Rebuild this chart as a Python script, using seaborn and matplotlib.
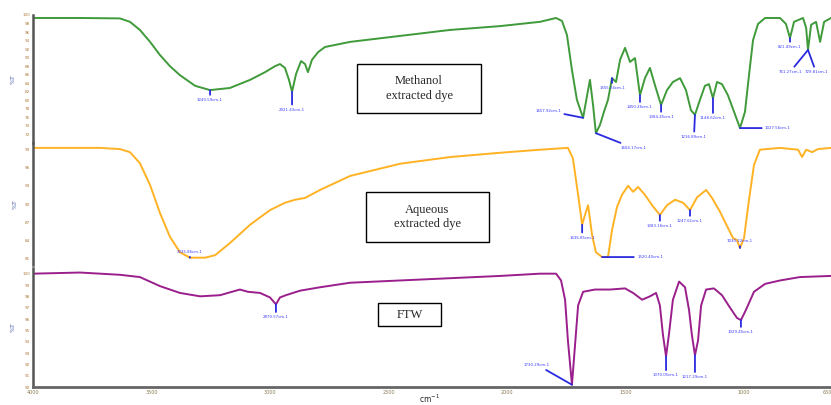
import matplotlib
matplotlib.use("Agg")
import matplotlib.pyplot as plt
from matplotlib.patches import Rectangle
import seaborn as sns
import pandas as pd

# ---- data: wavenumber (cm-1) and %T ----
methanol_wn = [4000, 3802, 3633, 3591, 3549, 3506, 3464, 3422, 3380, 3316, 3253, 3169, 3084, 3021,
               2979, 2958, 2937, 2920, 2907, 2890, 2869, 2852, 2840, 2823, 2797, 2768, 2662, 2451,
               2240, 2029, 1861, 1793, 1768, 1747, 1726, 1705, 1679, 1662, 1650, 1637, 1625, 1608,
               1591, 1574, 1557, 1540, 1523, 1502, 1481, 1460, 1439, 1418, 1397, 1376, 1350, 1325,
               1300, 1270, 1245, 1224, 1207, 1186, 1165, 1148, 1131, 1114, 1093, 1068, 1042, 1017,
               996, 979, 962, 941, 911, 848, 823, 806, 789, 751, 738, 730, 717, 696, 679, 662, 633]
methanol_t = [99.3, 99.3, 99.2, 98.4, 96.5, 93.7, 90.6, 88.0, 85.9, 83.4, 82.4, 82.9, 84.8, 86.6,
              88.0, 88.5, 87.6, 84.8, 82.0, 86.2, 89.2, 88.5, 86.6, 89.5, 91.3, 92.5, 93.7, 95.1,
              96.5, 97.4, 98.4, 99.3, 98.6, 95.3, 87.1, 80.1, 75.9, 81.2, 84.8, 78.9, 72.3, 74.2,
              77.3, 80.1, 85.2, 84.3, 89.5, 92.3, 89.0, 89.9, 81.2, 85.2, 87.6, 83.6, 78.9, 82.4,
              84.3, 85.2, 82.4, 77.7, 76.6, 80.1, 83.4, 83.8, 80.5, 84.3, 83.8, 81.2, 77.3, 73.5,
              77.3, 85.9, 94.1, 97.9, 99.3, 99.3, 97.9, 94.6, 98.4, 99.3, 97.0, 91.8, 97.7, 98.4,
              93.7, 98.4, 99.3]

aqueous_wn = [4000, 3717, 3633, 3591, 3549, 3506, 3464, 3422, 3380, 3338, 3274, 3232, 3169, 3084,
              3000, 2937, 2894, 2852, 2789, 2662, 2451, 2240, 2029, 1861, 1743, 1722, 1700, 1683,
              1671, 1658, 1641, 1625, 1599, 1574, 1557, 1536, 1515, 1489, 1468, 1447, 1418, 1388,
              1355, 1325, 1291, 1257, 1228, 1198, 1160, 1135, 1101, 1068, 1046, 1030, 1017, 1000,
              979, 958, 933, 848, 772, 755, 738, 713, 688, 633]
aqueous_t = [99.2, 99.2, 99.0, 98.5, 96.7, 93.1, 88.5, 84.6, 82.1, 81.2, 81.2, 81.6, 83.6, 86.6,
             89.0, 90.2, 90.7, 91.0, 92.3, 94.6, 96.6, 97.7, 98.4, 98.9, 99.2, 97.5, 91.5, 86.6,
             88.2, 89.8, 84.9, 82.1, 81.3, 81.3, 85.7, 89.5, 91.5, 93.0, 92.0, 92.8, 91.5, 89.8,
             88.2, 89.8, 90.7, 90.2, 89.0, 91.1, 92.3, 91.0, 88.7, 86.1, 84.4, 84.1, 82.8, 84.4,
             90.7, 96.4, 98.9, 99.2, 98.9, 97.7, 98.9, 98.5, 99.0, 99.2]

ftw_wn = [4000, 3802, 3633, 3549, 3464, 3380, 3295, 3211, 3127, 3093, 3042, 3000, 2975, 2958,
          2933, 2873, 2789, 2662, 2451, 2240, 2029, 1861, 1793, 1772, 1755, 1743, 1726, 1713,
          1700, 1679, 1629, 1565, 1502, 1468, 1430, 1397, 1371, 1355, 1342, 1329, 1317, 1300,
          1274, 1249, 1232, 1220, 1207, 1194, 1181, 1160, 1127, 1093, 1059, 1030, 1013, 992,
          958, 911, 848, 764, 633]
ftw_t = [100.0, 100.1, 99.9, 99.7, 98.9, 98.3, 98.0, 98.1, 98.6, 98.4, 98.3, 97.9, 97.3, 97.9,
         98.1, 98.5, 98.8, 99.2, 99.4, 99.6, 99.8, 100.0, 100.0, 99.4, 97.7, 94.1, 90.2, 93.7,
         97.2, 98.4, 98.6, 98.6, 98.7, 98.3, 97.7, 98.0, 98.3, 97.2, 94.6, 92.7, 94.6, 97.7,
         99.3, 98.8, 96.8, 94.6, 92.8, 94.1, 97.2, 98.6, 98.7, 98.1, 97.0, 96.1, 95.9, 96.8,
         98.4, 99.1, 99.4, 99.7, 99.8]

# peak labels: (wavenumber, %T, label, dx px, dy px)
methanol_peaks = [(3253, 82.4, "3240.59cm-1", 0, -8), (2907, 82.0, "2921.43cm-1", 0, -16),
                  (1679, 75.9, "1657.92cm-1", -22, 5), (1625, 72.3, "1604.17cm-1", 25, -13),
                  (1557, 85.2, "1555.24cm-1", 0, -8), (1439, 81.2, "1450.26cm-1", 0, -10),
                  (1350, 78.9, "1384.45cm-1", 0, -10), (1207, 76.6, "1216.89cm-1", -1, -20),
                  (1131, 80.5, "1148.62cm-1", 0, -18), (1017, 73.5, "1027.56cm-1", 25, 0),
                  (806, 94.6, "821.49cm-1", 0, -7), (730, 91.8, "761.27cm-1", -18, -20),
                  (730, 91.8, "729.81cm-1", 8, -20)]
aqueous_peaks = [(3338, 81.2, "3335.86cm-1", 0, 4), (1683, 86.6, "1636.85cm-1", 0, -11),
                 (1599, 81.3, "1520.40cm-1", 35, 0), (1355, 88.2, "1383.16cm-1", 0, -9),
                 (1228, 89.0, "1247.61cm-1", 0, -9), (1017, 82.8, "1030.22cm-1", 0, 5)]
ftw_peaks = [(2975, 97.3, "2870.57cm-1", 0, -11), (1726, 90.2, "1730.29cm-1", -22, 18),
             (1329, 92.7, "1370.05cm-1", 0, -17), (1207, 92.8, "1217.29cm-1", 0, -20),
             (1013, 95.9, "1029.45cm-1", 0, -10)]

x_ticks = [4000, 3500, 3000, 2500, 2000, 1500, 1000, 650]

sns.set_style("white")
plt.rcParams['font.family'] = ['DejaVu Sans']

fig = plt.figure(figsize=(8.31, 4.05), dpi=100)
W, H = 831.0, 405.0


def panel(top, bottom):
    return fig.add_axes([33 / W, 1 - bottom / H, (W - 33) / W, (bottom - top) / H])


panels = [
    (panel(15, 143), methanol_wn, methanol_t, "#3f9a3a", (70, 100), list(range(72, 101, 2)), methanol_peaks),
    (panel(143, 265), aqueous_wn, aqueous_t, "#ffb224", (80, 100), [81, 84, 87, 90, 93, 96, 99], aqueous_peaks),
    (panel(268, 387), ftw_wn, ftw_t, "#9a1f8c", (90, 100.5), list(range(90, 101)), ftw_peaks),
]

for i, (ax, wn, t, col, ylim, yt, peaks) in enumerate(panels):
    df = pd.DataFrame({"wn": wn, "t": t})
    sns.lineplot(data=df, x="wn", y="t", ax=ax, color=col, linewidth=1.4, sort=False)
    ax.set_xlim(4000, 633)
    ax.set_ylim(*ylim)
    ax.set_yticks(yt)
    ax.set_yticklabels([str(v) for v in yt], fontsize=3, color="#b07a3a")
    ax.tick_params(axis="y", direction="inout", length=2.5, width=0.8, pad=1, color="#333333")
    ax.set_xlabel("")
    ax.set_ylabel("%T", fontsize=4.5, color="#4a5fa8", labelpad=5)
    ax.patch.set_alpha(0)
    for s in ["top", "right"]:
        ax.spines[s].set_visible(False)
    ax.spines["left"].set_color("#555555")
    ax.spines["left"].set_linewidth(1.8)
    if i < 2:
        ax.spines["bottom"].set_visible(False)
        ax.set_xticks([])
    else:
        ax.spines["bottom"].set_color("#666666")
        ax.spines["bottom"].set_linewidth(2)
        ax.set_xticks(x_ticks)
        ax.set_xticklabels([str(v) for v in x_ticks], fontsize=3.5, color="#8a7a50")
        ax.tick_params(axis="x", direction="inout", length=3, width=0.8, pad=1, color="#333333")
    for pw, pt, lab, dx, dy in peaks:
        ha = "center" if dx == 0 or abs(dx) < 20 and dy != 0 else ("left" if dx > 0 else "right")
        va = "top" if dy < 0 else ("bottom" if dy > 0 else "center")
        if dx != 0 and dy == 0:
            ha = "left"
        if dx < 0 and dy > 0:
            ha, va = "right", "bottom"
        ax.annotate(lab, xy=(pw, pt), xytext=(dx, dy), textcoords="offset pixels",
                    fontsize=2.8, color="#3a3aff", ha=ha, va=va,
                    arrowprops=dict(arrowstyle="-", color="#2a2ae0", lw=1.3,
                                    shrinkA=0, shrinkB=0))

# sample boxes
boxes = [((357, 64, 481, 113), "Methanol\nextracted dye"),
         ((366, 192, 489, 242), "Aqueous\nextracted dye"),
         ((378, 303, 441, 326), "FTW")]
for (x0, y0, x1, y1), lab in boxes:
    fig.patches.append(Rectangle((x0 / W, 1 - y1 / H), (x1 - x0) / W, (y1 - y0) / H,
                                 transform=fig.transFigure, fill=True, facecolor="white",
                                 edgecolor="black", linewidth=1.0))
    fig.text((x0 + x1) / 2 / W, 1 - (y0 + y1) / 2 / H, lab, ha="center", va="center",
             fontsize=9, family="Liberation Serif", linespacing=1.3)

fig.text(430 / W, 1 - 399 / H, "cm$^{-1}$", ha="center", va="center", fontsize=5.5, color="#222222")

fig.savefig("out.png", dpi=100)
